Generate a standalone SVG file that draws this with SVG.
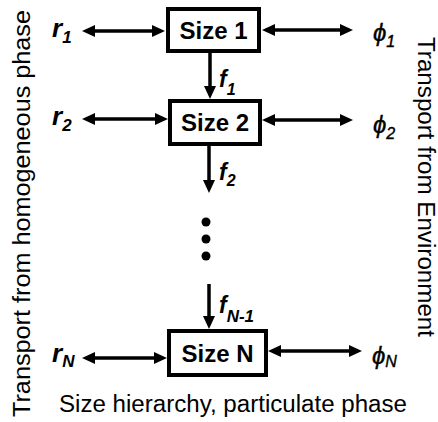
<svg xmlns="http://www.w3.org/2000/svg" width="438" height="422" viewBox="0 0 438 422">
<style>
.box{fill:#fff;stroke:#000;stroke-width:4}
.lbl{font-family:"Liberation Sans",Arial,sans-serif;font-weight:bold;font-size:24px;text-anchor:middle}
.var{font-family:"Liberation Sans",Arial,sans-serif;font-weight:bold;font-style:italic;font-size:26px}
.sub{font-size:17px}
.phi{font-family:"Liberation Sans",Arial,sans-serif;font-style:italic;font-size:24px;stroke:#000;stroke-width:0.4}
.phisub{font-size:16px}
.cap{font-family:"Liberation Sans",Arial,sans-serif;font-size:23px}
.conn line{stroke:#000;stroke-width:3.5}
</style>
<defs>
<marker id="ah" markerUnits="userSpaceOnUse" markerWidth="13" markerHeight="12" refX="0" refY="6" orient="auto-start-reverse" viewBox="0 0 13 12">
<path d="M0,0 L13,6 L0,12 z" fill="#000"/>
</marker>
</defs>
<rect width="438" height="422" fill="#fff"/>
<g id="connectors" class="conn">
<line x1="95" y1="31" x2="152" y2="31" marker-start="url(#ah)" marker-end="url(#ah)"/>
<line x1="275" y1="30" x2="340" y2="30" marker-start="url(#ah)" marker-end="url(#ah)"/>
<line x1="95" y1="119" x2="155" y2="119" marker-start="url(#ah)" marker-end="url(#ah)"/>
<line x1="275" y1="120" x2="340" y2="120" marker-start="url(#ah)" marker-end="url(#ah)"/>
<line x1="95" y1="358" x2="154" y2="358" marker-start="url(#ah)" marker-end="url(#ah)"/>
<line x1="281" y1="351" x2="349" y2="351" marker-start="url(#ah)" marker-end="url(#ah)"/>
<line x1="210" y1="53" x2="210" y2="86" marker-end="url(#ah)"/>
<line x1="209" y1="146" x2="209" y2="180" marker-end="url(#ah)"/>
<line x1="209" y1="284" x2="209" y2="316" marker-end="url(#ah)"/>
</g>
<g id="size1">
<rect class="box" x="168" y="9" width="91" height="42"/>
<text class="lbl" x="213.5" y="39">Size 1</text>
</g>
<g id="size2">
<rect class="box" x="170" y="101" width="90" height="43"/>
<text class="lbl" x="215" y="131">Size 2</text>
</g>
<g id="sizeN">
<rect class="box" x="169" y="331" width="97" height="44"/>
<text class="lbl" x="217.5" y="362">Size N</text>
</g>
<g id="dots">
<circle cx="206" cy="222" r="4.5"/>
<circle cx="206" cy="239" r="4.5"/>
<circle cx="206" cy="256" r="4.5"/>
</g>
<g id="labels">
<text class="var" x="52" y="37">r<tspan class="sub" dy="6">1</tspan></text>
<text class="var" x="52" y="125">r<tspan class="sub" dy="6">2</tspan></text>
<text class="var" x="52" y="362">r<tspan class="sub" dy="5">N</tspan></text>
<text class="phi" x="373" y="41">ϕ<tspan class="phisub" dy="6">1</tspan></text>
<text class="phi" x="373" y="133">ϕ<tspan class="phisub" dy="6">2</tspan></text>
<text class="phi" x="372" y="364">ϕ<tspan class="phisub" dy="3">N</tspan></text>
<text class="var" x="219" y="87" style="font-size:23px">f<tspan class="sub" dy="8" style="font-size:16px">1</tspan></text>
<text class="var" x="219" y="180" style="font-size:23px">f<tspan class="sub" dy="6" style="font-size:16px">2</tspan></text>
<text class="var" x="219" y="313" style="font-size:23px">f<tspan class="sub" dy="9" style="font-size:17px">N-1</tspan></text>
</g>
<g id="captions">
<text class="cap" transform="translate(30,417) rotate(-90)" textLength="407" lengthAdjust="spacingAndGlyphs">Transport from homogeneous phase</text>
<text class="cap" transform="translate(418,37) rotate(90)" textLength="300" lengthAdjust="spacingAndGlyphs">Transport from Environment</text>
<text class="cap" x="59" y="412" textLength="348" lengthAdjust="spacingAndGlyphs">Size hierarchy, particulate phase</text>
</g>
</svg>
